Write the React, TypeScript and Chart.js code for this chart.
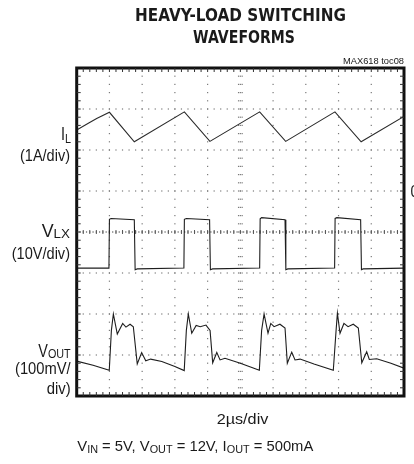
import { useEffect, useRef } from "react";
import { Chart, registerables } from "chart.js";

Chart.register(...registerables);

// Time axis: 2 µs/div, 10 divisions. Vertical axis in screen divisions (0..8).
const TIME_MIN = 0;
const TIME_MAX = 20;
const DIV_MIN = 0;
const DIV_MAX = 8;
const X_MAJOR = [0, 2, 4, 6, 8, 10, 12, 14, 16, 18, 20];
const Y_MAJOR = [0, 1, 2, 3, 4, 5, 6, 7, 8];

// Inductor current trace (1A/div)
const IL_T = [0, 0.71, 1.22, 2.0, 3.52, 6.58, 8.14, 11.18, 12.77, 15.78, 17.38, 20];
const IL_V = [6.49, 6.65, 6.77, 6.92, 6.2, 6.93, 6.21, 6.93, 6.21, 6.93, 6.2, 6.82];

// LX node voltage trace (10V/div)
const VLX_T = [0, 1.97, 2.0, 2.1, 3.52, 3.57, 3.7, 6.55, 6.58, 6.7, 8.12, 8.17, 8.3, 11.18, 11.21, 11.3, 12.73, 12.78, 12.9, 15.76, 15.79, 15.9, 17.35, 17.4, 17.5, 20];
const VLX_V = [3.12, 3.12, 4.31, 4.33, 4.3, 3.08, 3.1, 3.12, 4.31, 4.33, 4.3, 3.08, 3.1, 3.12, 4.32, 4.35, 4.3, 3.08, 3.1, 3.12, 4.33, 4.35, 4.3, 3.08, 3.1, 3.12];

// Output voltage ripple trace (100mV/div)
const VOUT_T = [
  0, 1.0, 1.99, 2.12, 2.24, 2.48, 2.81, 3.01, 3.26, 3.46, 3.7, 3.97, 4.22, 4.52, 5.2, 6.0, 6.57,
  6.7, 6.82, 7.03, 7.3, 7.55, 7.9, 8.15, 8.31, 8.56, 8.76, 9.06, 10.0, 11.16,
  11.3, 11.45, 11.69, 11.86, 12.06, 12.42, 12.73, 12.87, 13.14, 13.34, 13.65, 14.5, 15.68,
  15.85, 15.93, 16.09, 16.33, 16.58, 16.9, 17.21, 17.42, 17.72, 17.88, 18.33, 19.2, 20,
];
const VOUT_V = [
  0.85, 0.75, 0.63, 1.6, 2.0, 1.51, 1.77, 1.68, 1.75, 1.69, 0.78, 1.06, 0.86, 0.9, 0.84, 0.72, 0.62,
  1.6, 2.0, 1.53, 1.72, 1.69, 1.73, 1.6, 0.81, 1.06, 0.88, 0.92, 0.8, 0.63,
  1.6, 2.0, 1.53, 1.77, 1.69, 1.75, 1.66, 0.8, 1.07, 0.88, 0.9, 0.78, 0.63,
  1.6, 2.02, 1.53, 1.77, 1.69, 1.75, 1.66, 0.81, 1.08, 0.89, 0.91, 0.8, 0.68,
];

const FAMILY = '"Liberation Sans", Arial, sans-serif';

type Seg = { t: string; size: number; dy?: number; weight?: string };

function drawRich(
  ctx: CanvasRenderingContext2D,
  segs: Seg[],
  x: number,
  base: number,
  width: number,
  align: "left" | "right" | "center",
  family = FAMILY
) {
  let total = 0;
  const ws = segs.map((s) => {
    ctx.font = `${s.weight || "normal"} ${s.size}px ${family}`;
    const w = ctx.measureText(s.t).width;
    total += w;
    return w;
  });
  const sx = width / total;
  const x0 = align === "left" ? x : align === "right" ? x - width : x - width / 2;
  ctx.save();
  ctx.translate(x0, base);
  ctx.scale(sx, 1);
  ctx.textBaseline = "alphabetic";
  ctx.textAlign = "left";
  ctx.fillStyle = "#1a1a1a";
  let cx = 0;
  segs.forEach((s, i) => {
    ctx.font = `${s.weight || "normal"} ${s.size}px ${family}`;
    ctx.fillText(s.t, cx, s.dy || 0);
    cx += ws[i];
  });
  ctx.restore();
}

const scopePlugin = {
  id: "scopeGraticule",
  beforeDatasetsDraw(chart: any) {
    const { ctx, scales } = chart;
    const xs = scales.x;
    const ys = scales.y;
    ctx.save();
    ctx.fillStyle = "#7a7a7a";
    for (const t of X_MAJOR) {
      if (t === TIME_MIN || t === TIME_MAX || t === 10) continue;
      const px = xs.getPixelForValue(t);
      for (let k = 1; k < DIV_MAX * 5; k++) {
        const py = ys.getPixelForValue(k / 5);
        ctx.fillRect(px - 0.6, py - 0.6, 1.2, 1.2);
      }
    }
    for (const v of Y_MAJOR) {
      if (v === DIV_MIN || v === DIV_MAX || v === 4) continue;
      const py = ys.getPixelForValue(v);
      for (let k = 1; k < 50; k++) {
        const px = xs.getPixelForValue(k * 0.4);
        ctx.fillRect(px - 0.6, py - 0.6, 1.2, 1.2);
      }
    }
    const cx = xs.getPixelForValue(10);
    for (let k = 1; k < DIV_MAX * 5; k++) {
      const py = ys.getPixelForValue(k / 5);
      ctx.fillRect(cx - 2.4, py - 0.6, 1.2, 1.2);
      ctx.fillRect(cx - 0.6, py - 0.6, 1.2, 1.2);
      ctx.fillRect(cx + 1.2, py - 0.6, 1.2, 1.2);
    }
    const cy = ys.getPixelForValue(4);
    ctx.fillStyle = "#555";
    for (let k = 1; k < 100; k++) {
      const px = xs.getPixelForValue(k * 0.2);
      ctx.fillRect(px - 0.6, cy - 0.6, 1.2, 1.2);
    }
    for (let k = 1; k < 50; k++) {
      const px = xs.getPixelForValue(k * 0.4);
      ctx.fillRect(px - 0.5, cy - 2, 1, 4);
    }
    ctx.restore();
  },
  afterDatasetsDraw(chart: any) {
    const { ctx, chartArea, scales } = chart;
    const { left, right, top, bottom } = chartArea;
    const xs = scales.x;
    const ys = scales.y;
    ctx.save();
    ctx.strokeStyle = "#111";
    ctx.lineWidth = 3;
    ctx.strokeRect(left, top, right - left, bottom - top);
    ctx.fillStyle = "#333";
    for (let k = 1; k < 50; k++) {
      const px = xs.getPixelForValue(k * 0.4);
      ctx.fillRect(px - 0.5, top, 1, 4);
      ctx.fillRect(px - 0.5, bottom - 4, 1, 4);
    }
    for (let k = 1; k < DIV_MAX * 5; k++) {
      const py = ys.getPixelForValue(k / 5);
      ctx.fillRect(left, py - 0.5, 4, 1);
      ctx.fillRect(right - 4, py - 0.5, 4, 1);
    }
    ctx.restore();
  },
  afterDraw(chart: any) {
    const ctx: CanvasRenderingContext2D = chart.ctx;
    const TF = '"DejaVu Sans", "Liberation Sans", Arial, sans-serif';
    drawRich(ctx, [{ t: "HEAVY-LOAD SWITCHING", size: 18.2, weight: "bold" }], 240.5, 20.7, 211, "center", TF);
    drawRich(ctx, [{ t: "WAVEFORMS", size: 18.2, weight: "bold" }], 244, 43, 102, "center", TF);
    drawRich(ctx, [{ t: "MAX618 toc08", size: 9.8 }], 404, 64, 61, "right");

    drawRich(ctx, [{ t: "I", size: 18 }, { t: "L", size: 13.5, dy: 3 }], 71, 140, 10, "right");
    drawRich(ctx, [{ t: "(1A/div)", size: 16.5 }], 70, 160.7, 50, "right");

    drawRich(ctx, [{ t: "V", size: 18 }, { t: "LX", size: 13.5, dy: 1.6 }], 70, 236.7, 28.3, "right");
    drawRich(ctx, [{ t: "(10V/div)", size: 16.5 }], 70, 258.5, 58.3, "right");

    drawRich(ctx, [{ t: "V", size: 18 }, { t: "OUT", size: 13.5, dy: 0.8 }], 70.7, 356.7, 32.4, "right");
    drawRich(ctx, [{ t: "(100mV/", size: 16.5 }], 70.7, 374.3, 55.7, "right");
    drawRich(ctx, [{ t: "div)", size: 16.5 }], 70.7, 394.3, 24, "right");

    drawRich(ctx, [{ t: "0", size: 16.5 }], 410.5, 197, 8, "left");

    drawRich(ctx, [{ t: "2µs/div", size: 15 }], 242.5, 424, 51.7, "center");

    drawRich(
      ctx,
      [
        { t: "V", size: 15 },
        { t: "IN", size: 11, dy: 2.5 },
        { t: " = 5V, V", size: 15 },
        { t: "OUT", size: 11, dy: 2.5 },
        { t: " = 12V, I", size: 15 },
        { t: "OUT", size: 11, dy: 2.5 },
        { t: " = 500mA", size: 15 },
      ],
      77.3,
      450.7,
      236,
      "left"
    );
  },
};

function pts(t: number[], v: number[]) {
  return t.map((x, i) => ({ x, y: v[i] }));
}

export default function App() {
  const ref = useRef<HTMLCanvasElement | null>(null);
  useEffect(() => {
    if (!ref.current) return;
    const trace = (label: string, data: { x: number; y: number }[], color: string) => ({
      label,
      data,
      showLine: true,
      borderColor: color,
      borderWidth: 1.1,
      pointRadius: 0,
      tension: 0,
      fill: false,
    });
    const chart = new Chart(ref.current, {
      type: "scatter",
      data: {
        datasets: [
          trace("IL", pts(IL_T, IL_V), "#2a2a2a"),
          trace("VLX", pts(VLX_T, VLX_V), "#1e1e1e"),
          trace("VOUT", pts(VOUT_T, VOUT_V), "#1e1e1e"),
        ],
      },
      options: {
        animation: false,
        responsive: false,
        devicePixelRatio: window.devicePixelRatio || 1,
        layout: { padding: { left: 76.7, right: 10, top: 68, bottom: 68 } },
        scales: {
          x: { type: "linear", min: TIME_MIN, max: TIME_MAX, display: false },
          y: { type: "linear", min: DIV_MIN, max: DIV_MAX, display: false },
        },
        plugins: { legend: { display: false }, tooltip: { enabled: false } },
        events: [],
      },
      plugins: [scopePlugin],
    });
    return () => chart.destroy();
  }, []);
  return (
    <div style={{ position: "absolute", left: 0, top: 0, width: 414, height: 464, background: "#fff" }}>
      <canvas ref={ref} width={414} height={464} style={{ display: "block", width: 414, height: 464 }} />
    </div>
  );
}
